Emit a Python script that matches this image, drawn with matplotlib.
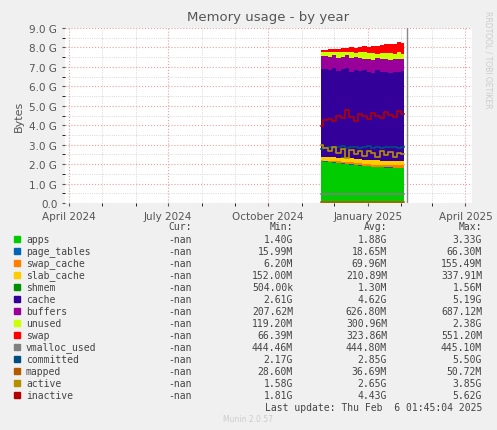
import matplotlib
matplotlib.use("Agg")
import matplotlib.pyplot as plt
import matplotlib.dates as mdates
import numpy as np
from datetime import date, timedelta

# sample dates, every 4 days from Nov 19 2024 to early Feb 2025
start = date(2024, 11, 19)
dates = [start + timedelta(days=4 * i) for i in range(20)]

G = 1e9
# stacked areas (GB)
apps = [2.15, 2.12, 2.10, 2.08, 2.05, 2.02, 2.00, 1.98, 1.95, 1.92, 1.90, 1.88, 1.85, 1.84, 1.83, 1.82, 1.81, 1.80, 1.80, 1.79]
page_tables = [0.02] * 20
swap_cache = [0.03, 0.04, 0.05, 0.06, 0.08, 0.09, 0.10, 0.11, 0.10, 0.11, 0.10, 0.09, 0.10, 0.11, 0.12, 0.10, 0.11, 0.12, 0.13, 0.12]
slab_cache = [0.18, 0.17, 0.19, 0.20, 0.18, 0.21, 0.22, 0.20, 0.21, 0.22, 0.20, 0.21, 0.22, 0.23, 0.21, 0.22, 0.21, 0.22, 0.21, 0.22]
shmem = [0.0013] * 20
cache = [4.52, 4.55, 4.50, 4.57, 4.48, 4.55, 4.60, 4.45, 4.58, 4.52, 4.60, 4.55, 4.50, 4.62, 4.55, 4.58, 4.52, 4.60, 4.56, 4.62]
buffers = [0.66, 0.68, 0.64, 0.67, 0.65, 0.62, 0.66, 0.68, 0.64, 0.66, 0.60, 0.67, 0.65, 0.63, 0.68, 0.64, 0.66, 0.62, 0.67, 0.65]
unused = [0.22, 0.20, 0.28, 0.18, 0.30, 0.27, 0.18, 0.33, 0.22, 0.30, 0.35, 0.28, 0.36, 0.22, 0.31, 0.33, 0.38, 0.30, 0.36, 0.25]
swap = [0.08, 0.10, 0.12, 0.13, 0.15, 0.18, 0.20, 0.24, 0.26, 0.28, 0.30, 0.33, 0.36, 0.40, 0.42, 0.45, 0.47, 0.50, 0.52, 0.55]
# lines (GB)
vmalloc_used = [0.445] * 20
committed = [2.80, 2.85, 2.90, 2.82, 2.88, 2.95, 2.83, 2.86, 2.90, 2.84, 2.87, 2.92, 2.85, 2.88, 2.83, 2.90, 2.86, 2.89, 2.84, 2.88]
mapped = [0.035, 0.036, 0.037, 0.036, 0.038, 0.037, 0.036, 0.035, 0.037, 0.038, 0.036, 0.037, 0.036, 0.035, 0.037, 0.038, 0.036, 0.037, 0.036, 0.037]
active = [3.00, 2.85, 2.70, 2.90, 2.55, 2.80, 2.30, 2.75, 2.50, 2.65, 2.40, 2.70, 2.55, 2.35, 2.70, 2.45, 2.60, 2.35, 2.55, 2.50]
inactive = [3.95, 4.25, 4.30, 4.20, 4.45, 4.35, 4.80, 4.40, 4.20, 4.60, 4.45, 4.30, 4.65, 4.50, 4.35, 4.70, 4.55, 4.40, 4.75, 4.60]

names = ["apps", "page_tables", "swap_cache", "slab_cache", "shmem", "cache", "buffers",
         "unused", "swap", "vmalloc_used", "committed", "mapped", "active", "inactive"]
colors = ["#00cc00", "#0066b3", "#ff8000", "#ffcc00", "#008f00", "#330099", "#990099",
          "#ccff00", "#ff0000", "#808080", "#004d80", "#b35a00", "#b38f00", "#b30000"]
cur = ["-nan"] * 14
mins = ["1.40G", "15.99M", "6.20M", "152.00M", "504.00k", "2.61G", "207.62M", "119.20M",
        "66.39M", "444.46M", "2.17G", "28.60M", "1.58G", "1.81G"]
avgs = ["1.88G", "18.65M", "69.96M", "210.89M", "1.30M", "4.62G", "626.80M", "300.96M",
        "323.86M", "444.80M", "2.85G", "36.69M", "2.65G", "4.43G"]
maxs = ["3.33G", "66.30M", "155.49M", "337.91M", "1.56M", "5.19G", "687.12M", "2.38G",
        "551.20M", "445.10M", "5.50G", "50.72M", "3.85G", "5.62G"]

W, H = 497, 431
fig = plt.figure(figsize=(W / 100, H / 100), dpi=100, facecolor="#f0f0f0")
ax = fig.add_axes([65 / W, 1 - 204 / H, 407 / W, 175 / H], facecolor="white")

x = mdates.date2num(dates)
stack = np.array([apps, page_tables, swap_cache, slab_cache, shmem, cache, buffers, unused, swap]) * G
ax.stackplot(x, stack, colors=colors[:9], linewidth=0, step="mid")
for vals, c in zip([vmalloc_used, committed, mapped, active, inactive], colors[9:]):
    ax.step(x, np.array(vals) * G, where="mid", color=c, lw=1.2)

ax.axvline(mdates.date2num(date(2025, 2, 6)), color="#888888", lw=1)
ax.set_xlim(mdates.date2num(date(2024, 3, 28)), mdates.date2num(date(2025, 4, 7)))
ax.set_ylim(0, 9e9)
ax.set_yticks(np.arange(0, 9.01e9, 1e9))
ax.set_yticklabels([f"{v:.1f} G" if v else "0.0" for v in np.arange(0, 9.01, 1)])
ax.set_yticks(np.arange(0, 9e9, 0.5e9), minor=True)
ax.xaxis.set_major_locator(mdates.MonthLocator(bymonth=[1, 4, 7, 10]))
ax.xaxis.set_major_formatter(mdates.DateFormatter("%B %Y"))
ax.xaxis.set_minor_locator(mdates.MonthLocator())
ax.grid(True, which="major", color="#e8a0a0", ls=":", lw=0.8)
ax.grid(True, which="minor", color="#cccccc", ls=":", lw=0.6)
ax.set_axisbelow(True)
ax.tick_params(labelsize=7.5, colors="#555555", length=2)
for s in ax.spines.values():
    s.set_visible(False)
ax.set_ylabel("Bytes", fontsize=8, color="#555555")
ax.set_title("Memory usage - by year", fontsize=9.5, color="#555555", pad=6)
fig.text(488 / W, 1 - 60 / H, "RRDTOOL / TOBI OETIKER", rotation=270, fontsize=5.5,
         color="#cccccc", ha="center", va="center")

mono = "DejaVu Sans Mono"
fs = 7
def row(y, cols):
    for xr, t in zip([192, 293, 387, 482], cols):
        fig.text(xr / W, 1 - y / H, t, family=mono, fontsize=fs, color="#444444", ha="right", va="center")

row(227, ["Cur:", "Min:", "Avg:", "Max:"])
for i, n in enumerate(names):
    y = 240 + i * 12
    fig.patches.append(plt.Rectangle((14 / W, 1 - (y + 3) / H), 6 / W, 6 / H,
                                     transform=fig.transFigure, color=colors[i]))
    fig.text(26 / W, 1 - y / H, n, family=mono, fontsize=fs, color="#444444", va="center")
    row(y, [cur[i], mins[i], avgs[i], maxs[i]])
fig.text(482 / W, 1 - 408 / H, "Last update: Thu Feb  6 01:45:04 2025", family=mono,
         fontsize=fs, color="#444444", ha="right", va="center")
fig.text(248 / W, 1 - 420 / H, "Munin 2.0.57", fontsize=5.5, color="#cccccc", ha="center", va="center")

fig.savefig("out.png", dpi=100, facecolor=fig.get_facecolor())
